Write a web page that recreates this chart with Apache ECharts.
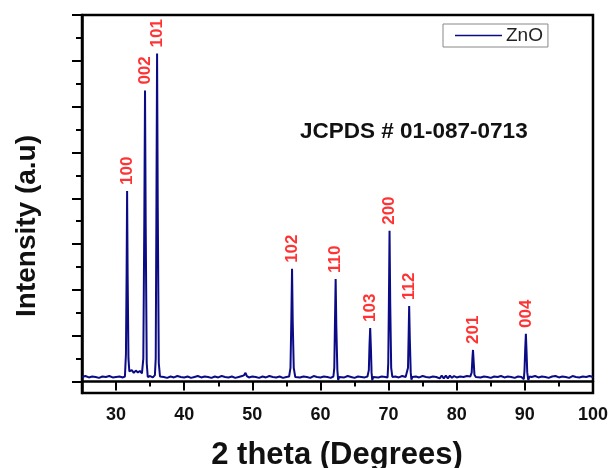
<!DOCTYPE html>
<html>
<head>
<meta charset="utf-8">
<script src="https://cdn.jsdelivr.net/npm/echarts@6/dist/echarts.min.js"></script>
<style>
  html, body { margin: 0; padding: 0; background: #fff; }
  #main { width: 611px; height: 468px; }
</style>
</head>
<body>
<div id="main"></div>
<script>
// XRD pattern: [2 theta, intensity (a.u.)]
const pattern = [
    [25.0, 0.10], [25.5, 0.12], [26.0, 0.09], [26.5, 0.11], [27.0, 0.10], [27.5, 0.08],
    [28.0, 0.11], [28.5, 0.10], [29.0, 0.12], [29.5, 0.09], [30.0, 0.10], [30.5, 0.11],
    [31.0, 0.09], [31.3, 0.11],
    [31.45, 0.6], [31.55, 2.4], [31.62, 4.16], [31.7, 2.3], [31.82, 0.5], [31.95, 0.22],
    [32.3, 0.25], [32.6, 0.19], [32.9, 0.24], [33.2, 0.20], [33.5, 0.23], [33.8, 0.18],
    [34.0, 0.5], [34.15, 3.6], [34.25, 6.35], [34.35, 3.4], [34.5, 0.4], [34.65, 0.10],
    [35.0, 0.12], [35.4, 0.09], [35.7, 0.14],
    [35.82, 0.5], [35.93, 4.0], [36.02, 7.16], [36.12, 3.8], [36.27, 0.4], [36.45, 0.11],
    [37.0, 0.10], [37.5, 0.08], [38.0, 0.11], [38.5, 0.09], [39.0, 0.12], [39.5, 0.10],
    [40.0, 0.09], [40.5, 0.11], [41.0, 0.08], [41.5, 0.10], [42.0, 0.12], [42.5, 0.09],
    [43.0, 0.11], [43.5, 0.10], [44.0, 0.08], [44.5, 0.11], [45.0, 0.09], [45.5, 0.12],
    [46.0, 0.10], [46.5, 0.09], [47.0, 0.11], [47.5, 0.08], [48.0, 0.10], [48.5, 0.12],
    [48.8, 0.14], [49.0, 0.19], [49.2, 0.12], [49.5, 0.09], [50.0, 0.11], [50.5, 0.10],
    [51.0, 0.08], [51.5, 0.11], [52.0, 0.09], [52.5, 0.12], [53.0, 0.10], [53.5, 0.09],
    [54.0, 0.11], [54.5, 0.08], [55.0, 0.10], [55.4, 0.11],
    [55.6, 0.3], [55.73, 1.4], [55.83, 2.46], [55.93, 1.3], [56.08, 0.3], [56.3, 0.10],
    [56.5, 0.12], [57.0, 0.09], [57.5, 0.11], [58.0, 0.10], [58.5, 0.08], [59.0, 0.12],
    [59.5, 0.10], [60.0, 0.09], [60.5, 0.11], [61.0, 0.10], [61.5, 0.08], [61.9, 0.11],
    [62.03, 0.3], [62.13, 1.3], [62.23, 2.24], [62.33, 1.2], [62.48, 0.25], [62.6, 0.03],
    [62.75, 0.10], [63.0, 0.11], [63.5, 0.09], [64.0, 0.12], [64.5, 0.10], [65.0, 0.08],
    [65.5, 0.11], [66.0, 0.10], [66.5, 0.09], [66.9, 0.11],
    [67.1, 0.25], [67.2, 0.8], [67.3, 1.17], [67.4, 0.75], [67.5, 0.2], [67.6, 0.03],
    [67.75, 0.10], [68.0, 0.12], [68.5, 0.09], [69.0, 0.11], [69.5, 0.10], [69.85, 0.09],
    [69.95, 0.4], [70.05, 1.8], [70.14, 3.29], [70.24, 1.7], [70.38, 0.3], [70.55, 0.10],
    [71.0, 0.11], [71.5, 0.09], [72.0, 0.12], [72.5, 0.10], [72.75, 0.08],
    [72.85, 0.3], [72.94, 1.0], [73.02, 1.65], [73.12, 0.9], [73.25, 0.2], [73.35, 0.04],
    [73.5, 0.10], [74.0, 0.11], [74.5, 0.09], [75.0, 0.12], [75.5, 0.10], [76.0, 0.09],
    [76.5, 0.11], [77.0, 0.10], [77.5, 0.07], [77.8, 0.13], [78.1, 0.07], [78.4, 0.13],
    [78.7, 0.07], [79.0, 0.13], [79.3, 0.08], [79.6, 0.12], [80.0, 0.09], [80.5, 0.11],
    [81.0, 0.10], [81.5, 0.12], [82.0, 0.11],
    [82.2, 0.2], [82.3, 0.5], [82.39, 0.69], [82.48, 0.45], [82.6, 0.15], [82.8, 0.10],
    [83.0, 0.12], [83.5, 0.09], [84.0, 0.11], [84.5, 0.10], [85.0, 0.08], [85.5, 0.11],
    [86.0, 0.10], [86.5, 0.12], [87.0, 0.09], [87.5, 0.11], [88.0, 0.10], [88.5, 0.08],
    [89.0, 0.11], [89.5, 0.10], [89.85, 0.05],
    [89.95, 0.25], [90.05, 0.7], [90.15, 1.04], [90.25, 0.65], [90.35, 0.2], [90.5, 0.03],
    [90.7, 0.11], [91.0, 0.10], [91.5, 0.12], [92.0, 0.09], [92.5, 0.11], [93.0, 0.10],
    [93.5, 0.08], [94.0, 0.11], [94.5, 0.12], [95.0, 0.09], [95.5, 0.11], [96.0, 0.10],
    [96.5, 0.08], [97.0, 0.12], [97.5, 0.10], [98.0, 0.09], [98.5, 0.11], [99.0, 0.10],
    [99.5, 0.12], [100.0, 0.10]
];

// Miller indices and where they sit
const peakLabels = ['100', '002', '101', '102', '110', '103', '200', '112', '201', '004'];
const peakAngles = [31.62, 34.25, 36.02, 55.83, 62.23, 67.3, 70.14, 73.02, 82.39, 90.15];
const peakTops = [4.16, 6.35, 7.16, 2.46, 2.24, 1.17, 3.29, 1.65, 0.69, 1.04];

// tick marks
const xMajorTicks = [30, 40, 50, 60, 70, 80, 90, 100];
const xMinorTicks = [25, 35, 45, 55, 65, 75, 85, 95];
const yMajorTicks = [0, 1, 2, 3, 4, 5, 6, 7, 8];
const yMinorTicks = [0.5, 1.5, 2.5, 3.5, 4.5, 5.5, 6.5, 7.5];

const fontName = 'Liberation Sans, Arial, sans-serif';

var dom = document.getElementById('main');
var myChart = echarts.init(dom, null, { renderer: 'canvas' });

var labelData = peakLabels.map(function (name, i) {
    return { name: name, value: [peakAngles[i], peakTops[i]] };
});

var option = {
    animation: false,
    grid: {
        left: 82, right: 17, top: 15, bottom: 75,
        show: true, borderColor: '#000', borderWidth: 2.5
    },
    legend: {
        left: 443, top: 24,
        padding: [2, 5, 2, 12],
        itemWidth: 47, itemHeight: 1.5,
        icon: 'rect',
        borderColor: '#888', borderWidth: 1,
        textStyle: { fontFamily: fontName, fontSize: 19, color: '#222', padding: [0, 0, 0, -1] },
        data: ['ZnO']
    },
    xAxis: [
        {
            type: 'value', min: 25, max: 100,
            axisLine: { lineStyle: { color: '#000', width: 2.5 } },
            axisTick: { customValues: xMajorTicks, length: 9, lineStyle: { color: '#000', width: 2 } },
            axisLabel: {
                customValues: xMajorTicks, margin: 13,
                fontFamily: fontName, fontSize: 18, fontWeight: 'bold', color: '#111'
            },
            splitLine: { show: false }
        },
        {
            type: 'value', min: 25, max: 100, position: 'bottom',
            axisLine: { show: false },
            axisTick: { customValues: xMinorTicks, length: 5, lineStyle: { color: '#000', width: 2 } },
            axisLabel: { show: false },
            splitLine: { show: false }
        }
    ],
    yAxis: [
        {
            type: 'value', min: -0.25, max: 8,
            axisLine: { show: true, lineStyle: { color: '#000', width: 2.5 } },
            axisTick: { show: true, customValues: yMajorTicks, length: 10, lineStyle: { color: '#000', width: 2 } },
            axisLabel: { show: false },
            splitLine: { show: false }
        },
        {
            type: 'value', min: -0.25, max: 8, position: 'left',
            axisLine: { show: false },
            axisTick: { show: true, customValues: yMinorTicks, length: 6, lineStyle: { color: '#000', width: 2 } },
            axisLabel: { show: false },
            splitLine: { show: false }
        }
    ],
    series: [
        {
            name: 'ZnO',
            type: 'line',
            symbol: 'none',
            data: pattern,
            lineStyle: { color: '#0b0b85', width: 2 },
            itemStyle: { color: '#0b0b85' }
        },
        {
            name: 'hkl',
            type: 'scatter',
            symbolSize: 0,
            data: labelData,
            silent: true,
            label: {
                show: true,
                formatter: '{b}',
                position: 'top',
                distance: 6,
                rotate: 90,
                align: 'left',
                verticalAlign: 'middle',
                color: '#ff0000',
                fontFamily: fontName,
                fontSize: 17,
                fontWeight: 'bold'
            }
        }
    ],
    graphic: [
        {
            type: 'text', x: 27, y: 226, rotation: Math.PI / 2,
            style: {
                text: 'Intensity (a.u)', textAlign: 'center', textVerticalAlign: 'middle',
                font: 'bold 28px ' + fontName, fill: '#111'
            }
        },
        {
            type: 'text', x: 337, y: 455,
            style: {
                text: '2 theta (Degrees)', textAlign: 'center', textVerticalAlign: 'middle',
                font: 'bold 31px ' + fontName, fill: '#111'
            }
        },
        {
            type: 'text', x: 300, y: 132,
            style: {
                text: 'JCPDS # 01-087-0713', textAlign: 'left', textVerticalAlign: 'middle',
                font: 'bold 22.5px ' + fontName, fill: '#111'
            }
        }
    ]
};

myChart.setOption(option);
window.addEventListener('resize', myChart.resize);
</script>
</body>
</html>
